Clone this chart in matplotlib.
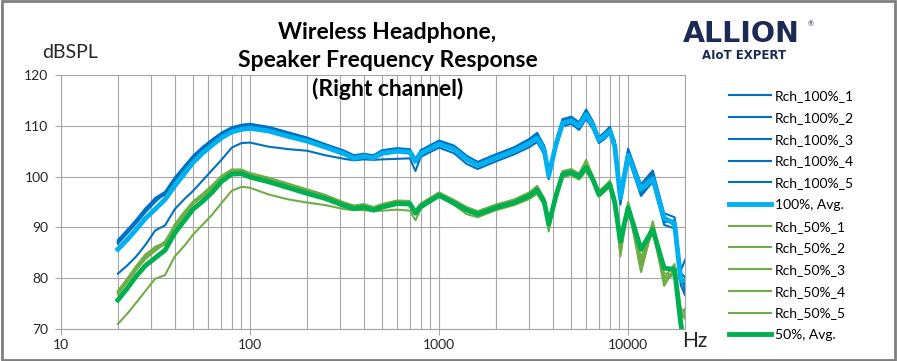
'''
Right channel speaker frequency response, wireless headphone.
Five runs at 100% and 50% volume plus their averages.
'''

import matplotlib
matplotlib.use("Agg")
import matplotlib.pyplot as plt
from matplotlib.patches import Rectangle
from matplotlib.ticker import FixedLocator, NullFormatter

plt.rcParams['font.family'] = ['Lato', 'DejaVu Sans']

# frequency points (Hz)
freq = [20, 22.4, 25, 28, 31.5, 35.5, 40, 45, 50, 56, 63, 71, 80, 90, 100,
        125, 160, 200, 250, 315, 355, 400, 450, 500, 600, 700, 750, 800,
        1000, 1200, 1400, 1600, 2000, 2500, 3000, 3300, 3600, 3800, 4150,
        4500, 5000, 5500, 6000, 6500, 7000, 7500, 8000, 8500, 9100, 10000,
        11700, 13500, 15500, 17600, 19000, 20000]

# 100% volume runs (dBSPL)
rch100_1 = [87.3, 89.3, 91.3, 93.6, 95.8, 97.0, 99.8, 102.1, 104.0, 105.7, 107.2, 108.6, 109.6, 110.1, 110.3,
            109.6, 108.4, 107.4, 106.1, 104.8, 103.8, 104.2, 103.9, 104.9, 105.3, 105.1, 103.2, 104.9,
            106.8, 105.8, 103.8, 102.6, 104.2, 105.6, 107.2, 108.4, 105.8, 100.0, 106.8,
            111.0, 111.5, 110.4, 112.8, 110.6, 107.4, 108.6, 109.6, 106.8, 97.0, 105.5,
            98.5, 101.2, 92.8, 92.0, 81.5, 83.6]
rch100_2 = [87.0, 89.0, 91.0, 93.2, 95.2, 96.6, 99.5, 101.8, 103.8, 105.5, 107.0, 108.4, 109.5, 110.0, 110.2,
            109.7, 108.6, 107.6, 106.3, 105.0, 104.0, 104.3, 104.1, 105.0, 105.4, 105.2, 103.4, 105.0,
            106.9, 105.9, 103.9, 102.8, 104.3, 105.7, 107.3, 108.5, 105.9, 100.6, 106.9,
            111.2, 111.6, 110.6, 113.0, 110.8, 107.6, 108.4, 109.4, 106.4, 94.8, 104.8,
            96.5, 100.4, 91.0, 91.4, 80.4, 77.5]
rch100_3 = [86.8, 88.8, 90.8, 93.0, 95.0, 96.8, 99.3, 101.6, 103.6, 105.3, 106.8, 108.2, 109.3, 109.8, 110.0,
            109.5, 108.4, 107.5, 106.2, 104.9, 104.1, 104.4, 104.0, 105.1, 105.5, 105.3, 103.5, 105.1,
            107.0, 106.0, 104.0, 102.7, 104.2, 105.5, 107.0, 108.1, 105.6, 100.3, 106.6,
            110.9, 111.3, 110.5, 112.6, 110.5, 107.5, 108.2, 109.2, 106.2, 95.4, 104.6,
            97.0, 100.0, 92.2, 90.2, 79.8, 78.8]
rch100_4 = [87.5, 89.5, 91.5, 93.8, 95.6, 96.4, 99.6, 102.0, 104.1, 105.8, 107.3, 108.7, 109.7, 110.2, 110.4,
            109.8, 108.7, 107.7, 106.4, 105.1, 104.2, 104.5, 104.2, 105.2, 105.6, 105.4, 103.3, 105.2,
            107.1, 106.1, 104.1, 102.9, 104.4, 105.8, 107.4, 108.6, 106.0, 100.4, 107.0,
            111.3, 111.8, 110.7, 113.2, 110.9, 107.8, 108.7, 109.8, 107.0, 96.0, 105.2,
            97.8, 100.8, 91.5, 91.2, 81.0, 80.2]
rch100_5 = [80.9, 82.5, 84.3, 86.6, 89.4, 90.4, 93.6, 95.6, 97.2, 99.2, 101.3, 103.4, 105.7, 106.6, 106.7,
            105.9, 105.4, 105.1, 104.2, 103.5, 103.2, 103.4, 103.3, 103.4, 103.5, 103.6, 101.1, 103.9,
            105.7, 104.6, 102.5, 101.5, 103.0, 104.4, 105.8, 106.8, 104.4, 99.5, 105.6,
            109.9, 110.4, 109.2, 111.4, 109.4, 106.6, 107.4, 108.5, 105.4, 94.5, 103.8,
            96.2, 99.0, 90.5, 89.8, 78.6, 76.7]
avg100 = [85.7, 87.6, 89.6, 91.8, 93.6, 95.5, 98.2, 100.6, 102.8, 104.6, 106.2, 107.7, 108.8, 109.3, 109.5,
          109.0, 107.9, 107.0, 105.8, 104.5, 103.6, 104.0, 103.7, 104.6, 105.0, 104.8, 103.0, 104.6,
          106.4, 105.4, 103.4, 102.2, 103.7, 105.1, 106.6, 107.6, 105.2, 100.2, 106.3,
          110.5, 111.0, 110.0, 112.2, 110.2, 107.2, 108.0, 109.0, 106.0, 95.8, 104.2,
          97.5, 99.6, 91.8, 90.8, 79.6, 79.5]

# 50% volume runs (dBSPL)
rch50_1 = [77.3, 79.7, 82.2, 84.5, 86.2, 87.0, 90.5, 93.0, 95.0, 96.4, 98.1, 100.1, 101.3, 101.3, 100.6,
           99.6, 98.3, 97.2, 96.1, 94.6, 94.0, 94.3, 93.7, 94.4, 95.1, 95.0, 93.0, 94.5,
           96.7, 95.2, 93.8, 93.0, 94.4, 95.4, 96.8, 98.2, 95.6, 89.8, 96.8,
           101.0, 101.3, 100.5, 103.3, 100.0, 96.8, 98.0, 99.2, 95.6, 85.2, 94.8,
           84.0, 90.8, 80.0, 82.8, 74.0, 73.4]
rch50_2 = [77.0, 79.4, 81.9, 84.1, 85.6, 87.3, 90.2, 92.7, 94.8, 96.2, 97.9, 99.9, 101.1, 101.2, 100.5,
           99.7, 98.5, 97.4, 96.3, 94.8, 94.2, 94.5, 93.9, 94.5, 95.2, 95.1, 93.2, 94.6,
           96.8, 95.3, 93.9, 93.1, 94.3, 95.3, 96.6, 97.8, 95.4, 91.0, 96.6,
           100.8, 101.1, 100.3, 102.6, 99.8, 97.0, 97.8, 98.8, 95.2, 86.2, 94.3,
           81.2, 90.2, 79.2, 81.0, 73.0, 72.5]
rch50_3 = [76.8, 79.2, 81.6, 83.8, 85.4, 86.8, 90.0, 92.5, 94.6, 96.0, 97.7, 99.7, 101.0, 101.0, 100.3,
           99.5, 98.2, 97.1, 96.0, 94.5, 93.9, 94.2, 93.6, 94.3, 95.0, 94.9, 93.1, 94.4,
           96.6, 95.1, 93.7, 92.9, 94.2, 95.2, 96.5, 97.6, 95.3, 90.4, 96.5,
           100.7, 101.0, 100.2, 102.2, 99.6, 96.6, 97.6, 98.6, 95.0, 84.8, 94.0,
           82.5, 89.8, 78.5, 82.0, 72.5, 74.0]
rch50_4 = [77.5, 79.9, 82.4, 84.7, 86.0, 86.6, 90.6, 93.1, 95.1, 96.6, 98.3, 100.2, 101.4, 101.4, 100.7,
           99.8, 98.6, 97.5, 96.4, 94.9, 94.3, 94.6, 94.0, 94.6, 95.3, 95.2, 93.4, 94.7,
           96.9, 95.4, 94.0, 93.2, 94.5, 95.5, 96.9, 98.0, 95.7, 89.2, 96.9,
           101.1, 101.5, 100.6, 103.0, 100.1, 97.2, 98.1, 99.0, 95.8, 84.3, 95.0,
           83.0, 91.2, 81.0, 80.5, 73.5, 72.0]
rch50_5 = [71.0, 73.0, 75.2, 77.5, 79.9, 80.6, 84.3, 86.4, 88.6, 90.5, 92.5, 94.9, 97.2, 98.0, 97.8,
           96.5, 95.5, 94.9, 94.4, 93.6, 93.4, 93.4, 93.2, 93.3, 93.5, 93.3, 91.4, 93.7,
           96.1, 94.4, 92.6, 92.0, 93.4, 94.4, 95.6, 96.6, 94.4, 90.0, 95.6,
           99.9, 100.3, 99.4, 101.2, 99.0, 96.0, 97.0, 98.0, 94.4, 86.0, 93.5,
           83.8, 89.0, 79.8, 81.2, 72.0, 73.0]
avg50 = [75.7, 78.0, 80.4, 82.5, 84.0, 85.5, 88.9, 91.4, 93.6, 95.1, 96.9, 99.1, 100.5, 100.6, 99.9,
         99.0, 97.8, 96.7, 95.7, 94.3, 93.7, 94.0, 93.4, 94.0, 94.7, 94.6, 92.8, 94.1,
         96.3, 94.8, 93.4, 92.6, 93.9, 94.9, 96.2, 97.4, 95.0, 90.6, 96.2,
         100.4, 100.8, 100.0, 101.8, 99.5, 96.5, 97.5, 98.5, 94.9, 87.3, 93.9,
         85.7, 89.6, 82.0, 81.7, 71.0, 66.0]

runs100 = [rch100_1, rch100_2, rch100_3, rch100_4, rch100_5]
runs50 = [rch50_1, rch50_2, rch50_3, rch50_4, rch50_5]

DARK_BLUE = "#0070C0"
LIGHT_BLUE = "#00B0F0"
LIGHT_GREEN = "#70AD47"
GREEN = "#00B050"
GRID = "#A6A6A6"
NAVY = "#1C2A56"

fig = plt.figure(figsize=(8.97, 3.61), dpi=100)
ax = fig.add_axes([0.068, 0.0886, 0.6957, 0.7036])

for i, r in enumerate(runs100):
    ax.plot(freq, r, color=DARK_BLUE, lw=1.5, label="Rch_100%%_%d" % (i + 1))
ax.plot(freq, avg100, color=LIGHT_BLUE, lw=3.5, label="100%, Avg.")
for i, r in enumerate(runs50):
    ax.plot(freq, r, color=LIGHT_GREEN, lw=1.5, label="Rch_50%%_%d" % (i + 1))
ax.plot(freq, avg50, color=GREEN, lw=3.5, label="50%, Avg.")

# axes
ax.set_xscale("log")
ax.set_xlim(10, 20000)
ax.set_ylim(70, 120)
ax.set_yticks([70, 80, 90, 100, 110, 120])
ax.xaxis.set_major_locator(FixedLocator([10, 100, 1000, 10000]))
ax.set_xticklabels(["10", "100", "1000", "10000"])
minors = [m * d for d in [10, 100, 1000] for m in range(2, 10)] + [20000]
ax.xaxis.set_minor_locator(FixedLocator(minors))
ax.xaxis.set_minor_formatter(NullFormatter())
ax.grid(True, which="both", axis="x", color=GRID, lw=0.8)
ax.grid(True, which="major", axis="y", color=GRID, lw=0.8)
ax.tick_params(axis="both", which="major", labelsize=10, length=4,
               color=GRID, labelcolor="#262626")
ax.tick_params(axis="y", pad=5)
ax.tick_params(axis="x", which="minor", length=0)
for s in ax.spines.values():
    s.set_color(GRID)
    s.set_linewidth(0.8)

# labels
fig.text(0.047, 0.855, "dBSPL", fontsize=14, color="#262626", va="center")
fig.text(0.761, 0.055, "Hz", fontsize=15, color="#262626", va="center")
fig.text(0.432, 0.94,
         "Wireless Headphone,\nSpeaker Frequency Response\n(Right channel)",
         ha="center", va="top", fontsize=16.5, fontweight="bold",
         linespacing=1.42, color="black")

# logo
fig.text(0.8265, 0.905, "ALLION", fontsize=20.5, fontweight="heavy",
         family="DejaVu Sans", color=NAVY, ha="center", va="center")
fig.text(0.9, 0.935, "\u00ae", fontsize=5, color=NAVY, va="center")
fig.text(0.830, 0.847, "AIoT EXPERT", fontsize=8.5, fontweight="bold",
         family="DejaVu Sans", color=NAVY, ha="center", va="center")

# legend
ax.legend(loc="upper left", bbox_to_anchor=(1.062, 0.962), frameon=False,
          fontsize=10, handlelength=3.0, handletextpad=0.3,
          labelspacing=0.7, borderaxespad=0)

# chart border
fig.patches.append(Rectangle((0.002, 0.003), 0.996, 0.994, transform=fig.transFigure,
                             fill=False, edgecolor="#7F7F7F", lw=2))

fig.savefig("out.png", dpi=100)
